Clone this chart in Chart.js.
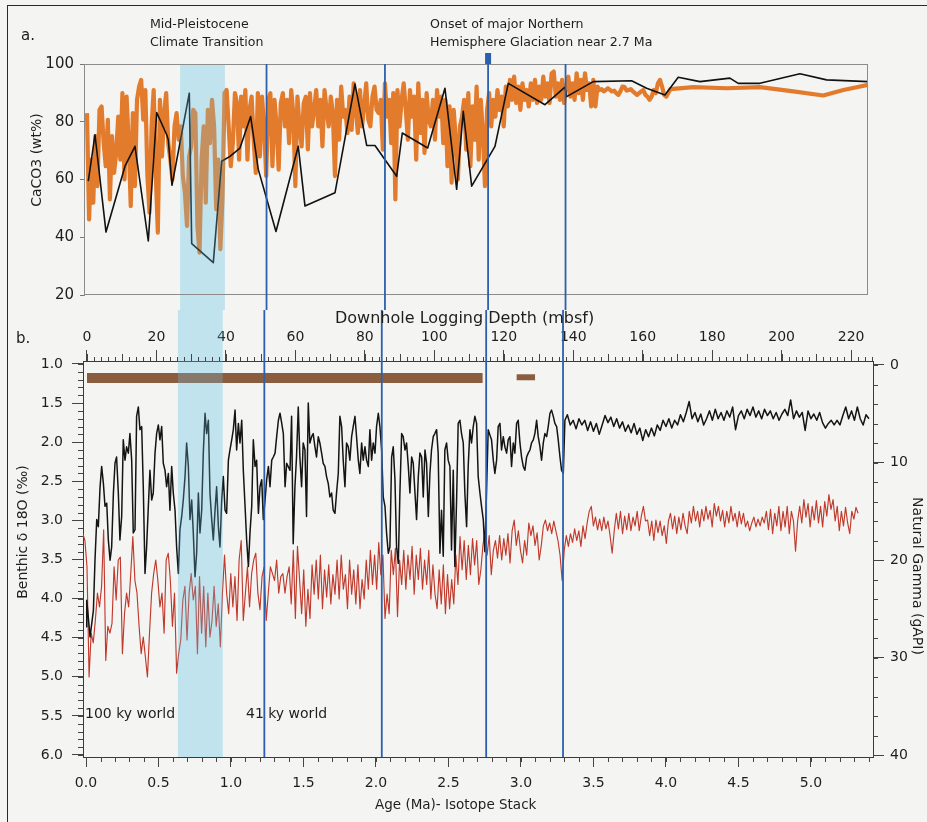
<!DOCTYPE html>
<html><head><meta charset="utf-8">
<script src="https://cdn.jsdelivr.net/npm/chart.js@4.4.1/dist/chart.umd.min.js"></script>
<style>
html,body{margin:0;padding:0;background:#f4f4f2;}
body{width:927px;height:822px;position:relative;overflow:hidden;font-family:"DejaVu Sans",sans-serif;color:#1e1e1e;}
canvas{position:absolute;left:0;}
#cA{top:0;}
#cB{top:310px;}
.t{position:absolute;white-space:nowrap;line-height:1.2;font-family:"DejaVu Sans",sans-serif;color:#1e1e1e;}
.rl{transform:translate(-50%,-50%) rotate(-90deg);}
.rr{transform:translate(-50%,-50%) rotate(90deg);}
#frame{position:absolute;left:7px;top:5px;width:960px;height:860px;border-left:1.5px solid #2a2a2a;border-top:1.5px solid #2a2a2a;pointer-events:none;}
</style></head>
<body>
<canvas id="cA" width="927" height="310"></canvas>
<canvas id="cB" width="927" height="512"></canvas>
<div class="t" style="left:21px;top:25.8px;font-size:15px;">a.</div>
<div class="t" style="left:150px;top:16.4px;font-size:12.6px;">Mid-Pleistocene</div>
<div class="t" style="left:150px;top:33.6px;font-size:12.6px;">Climate Transition</div>
<div class="t" style="left:430px;top:16.4px;font-size:12.6px;">Onset of major Northern</div>
<div class="t" style="left:430px;top:33.6px;font-size:12.6px;">Hemisphere Glaciation near 2.7 Ma</div>
<div class="t" style="left:16px;top:329px;font-size:15px;">b.</div>
<div class="t" style="left:335px;top:308.2px;font-size:16px;">Downhole Logging Depth (mbsf)</div>
<div class="t" style="left:85px;top:704.8px;font-size:14px;">100 ky world</div>
<div class="t" style="left:246px;top:704.8px;font-size:14px;">41 ky world</div>
<div class="t" style="left:375px;top:795.5px;font-size:13.5px;">Age (Ma)- Isotope Stack</div>
<div class="t rl" style="left:36px;top:159.5px;font-size:14px;">CaCO3 (wt%)</div>
<div class="t rl" style="left:22px;top:532px;font-size:14px;">Benthic δ 18O (‰)</div>
<div class="t rr" style="left:918px;top:576px;font-size:14px;">Natural Gamma (gAPI)</div>
<div id="frame"></div>
<script>
// ---------------- DATA ----------------
// Shared depth sampling grid (mbsf) used by the downhole records
const depthGrid = [-1.2,-0.6,0,0.6,1.2,1.8,2.4,3,3.6,4.2,
4.8,5.4,6,6.6,7.2,7.8,8.4,9,9.6,10.2,
10.8,11.4,12,12.6,13.2,13.8,14.4,15,15.6,16.2,
16.8,17.4,18,18.6,19.2,19.8,20.4,21,21.6,22.2,
22.8,23.4,24,24.6,25.2,25.8,26.4,27,27.6,28.2,
28.8,29.4,30,30.6,31.2,31.8,32.4,33,33.6,34.2,
34.8,35.4,36,36.6,37.2,37.8,38.4,39,39.6,40.2,
40.8,41.4,42,42.6,43.2,43.8,44.4,45,45.6,46.2,
46.8,47.4,48,48.6,49.2,49.8,50.4,51,51.6,52.2,
52.8,53.4,54,54.6,55.2,55.8,56.4,57,57.6,58.2,
58.8,59.4,60,60.6,61.2,61.8,62.4,63,63.6,64.2,
64.8,65.4,66,66.6,67.2,67.8,68.4,69,69.6,70.2,
70.8,71.4,72,72.6,73.2,73.8,74.4,75,75.6,76.2,
76.8,77.4,78,78.6,79.2,79.8,80.4,81,81.6,82.2,
82.8,83.4,84,84.6,85.2,85.8,86.4,87,87.6,88.2,
88.8,89.4,90,90.6,91.2,91.8,92.4,93,93.6,94.2,
94.8,95.4,96,96.6,97.2,97.8,98.4,99,99.6,100.2,
100.8,101.4,102,102.6,103.2,103.8,104.4,105,105.6,106.2,
106.8,107.4,108,108.6,109.2,109.8,110.4,111,111.6,112.2,
112.8,113.4,114,114.6,115.2,115.8,116.4,117,117.6,118.2,
118.8,119.4,120,120.6,121.2,121.8,122.4,123,123.6,124.2,
124.8,125.4,126,126.6,127.2,127.8,128.4,129,129.6,130.2,
130.8,131.4,132,132.6,133.2,133.8,134.4,135,135.6,136.2,
136.8,137.4,138,138.6,139.2,139.8,140.4,141,141.6,142.2,
142.8,143.4,144,144.6,145.2,145.8,146.4,147,147.6,148.2,
148.8,149.4,150,150.6,151.2,151.8,152.4,153,153.6,154.2,
154.8,155.4,156,156.6,157.2,157.8,158.4,159,159.6,160.2,
160.8,161.4,162,162.6,163.2,163.8,164.4,165,165.6,166.2,
166.8,167.4,168,168.6,169.2,169.8,170.4,171,171.6,172.2,
172.8,173.4,174,174.6,175.2,175.8,176.4,177,177.6,178.2,
178.8,179.4,180,180.6,181.2,181.8,182.4,183,183.6,184.2,
184.8,185.4,186,186.6,187.2,187.8,188.4,189,189.6,190.2,
190.8,191.4,192,192.6,193.2,193.8,194.4,195,195.6,196.2,
196.8,197.4,198,198.6,199.2,199.8,200.4,201,201.6,202.2,
202.8,203.4,204,204.6,205.2,205.8,206.4,207,207.6,208.2,
208.8,209.4,210,210.6,211.2,211.8,212.4,213,213.6,214.2,
214.8,215.4,216,216.6,217.2,217.8,218.4,219,219.6,220.2,
220.8,221.4,222];

// Panel a: CaCO3 (wt%) high-resolution record, on depthGrid from 0 m
const caco3Orange = [83.0,46.2,66.9,52.0,75.0,57.7,84.1,85.3,72.6,64.6,80.7,53.1,75.0,62.3,69.2,81.8,66.9,
89.9,60.0,88.7,72.6,50.8,83.0,57.7,87.6,92.2,94.5,80.7,91.0,61.2,48.5,78.4,91.0,62.3,41.6,87.6,68.0,83.0,89.9,72.6,66.9,
60.0,78.4,83.0,73.8,78.4,61.2,55.4,43.9,68.0,71.5,84.1,83.0,43.9,34.7,66.9,78.4,52.0,84.1,72.6,87.6,78.4,49.7,66.9,
35.9,
53.1,89.9,91.0,78.4,64.6,72.6,89.9,86.4,66.9,88.7,78.4,91.0,66.9,84.1,88.7,73.8,62.3,89.9,68.0,88.7,78.4,61.2,87.6,
89.9,64.6,87.6,78.4,63.4,86.4,89.9,78.4,87.6,72.6,91.0,83.0,57.7,88.7,78.4,71.5,86.4,88.7,70.4,89.9,78.4,84.1,91.0,78.4,
87.6,71.5,91.0,84.1,78.4,88.7,83.0,61.2,87.6,73.8,92.2,81.8,84.1,76.1,88.7,77.2,93.3,84.1,76.1,91.0,78.4,85.3,93.3,80.7,
78.4,88.7,92.2,84.1,83.0,
87.6,70.3,93.3,81.8,87.6,72.6,89.9,53.1,91.0,78.4,87.6,93.3,84.1,73.8,91.0,81.8,88.7,66.9,93.3,76.1,
87.6,69.2,89.9,80.7,78.4,87.6,73.8,91.0,81.8,88.7,72.6,87.6,64.6,85.3,58.9,84.1,73.8,60.0,78.4,81.8,
87.6,70.3,89.9,64.6,85.3,73.8,92.2,66.9,87.6,76.1,57.7,84.1,89.9,78.4,87.6,81.8,91.0,84.1,88.7,78.4,
92.2,85.3,94.5,87.6,95.6,86.5,92.2,84.1,93.3,87.6,91.0,85.3,93.3,87.6,94.5,86.5,92.2,87.6,95.6,88.7,
93.3,86.5,96.8,97.4,88.7,93.3,87.6,94.5,86.5,92.2,95.6,88.7,93.3,87.6,96.8,89.9,94.5,87.6,96.8,91.0,
93.3,85.3,94.5,85.3,92.2,91.0,91.3,90.5,91.0,91.6,91.0,90.5,90.8,89.9,89.3,90.5,92.2,92.0,90.8,91.0,
91.3,90.5,89.9,89.3,89.9,90.5,91.0,89.3,88.7,87.6,88.7,91.0,89.9,93.3,94.5,92.2,89.3,88.7];
const caco3TailDepth = [168.0,174.6,184.2,193.8,203.4,212.0,217.8,225.0];
const caco3TailValue = [91.3,92.0,91.6,92.0,90.5,89.1,91.0,92.8];

// Panel a: CaCO3 (wt%) low-resolution record
const caco3BlackDepth = [0.37,2.30,5.47,10.94,13.82,17.65,20.07,22.95,23.41,24.47,29.46,30.15,36.37,38.78,41.17,44.05,47.13,49.32,54.42,60.84,62.77,71.41,77.17,80.54,82.93,89.17,90.79,98.10,103.08,106.45,108.35,110.77,117.48,121.31,131.88,137.63,138.12,145.78,156.83,161.15,166.43,170.26,176.50,185.14,187.53,193.78,205.30,212.98,224.96];
const caco3BlackValue = [59.4,75.5,41.8,64.6,71.5,38.7,83.2,75.5,73.8,58.0,89.9,37.8,31.2,66.3,68.0,70.9,81.8,63.5,42.0,71.5,50.8,55.4,93.1,71.8,71.8,61.1,76.1,70.9,91.6,56.6,83.6,57.7,71.5,93.3,85.9,92.0,88.7,93.9,94.2,91.6,89.3,95.4,93.9,95.1,93.3,93.3,96.6,94.5,93.9];

// Panel b: benthic d18O isotope stack (age in Ma)
const isoAge = [0,0.005,0.028,0.051,0.062,0.074,0.085,0.097,0.108,0.120,
0.131,0.143,0.154,0.166,0.177,0.189,0.200,0.211,0.223,0.234,
0.246,0.257,0.269,0.280,0.292,0.303,0.315,0.326,0.338,0.349,
0.361,0.372,0.384,0.395,0.407,0.418,0.430,0.441,0.453,0.464,
0.476,0.487,0.499,0.510,0.522,0.533,0.545,0.556,0.568,0.579,
0.591,0.602,0.614,0.625,0.637,0.648,0.660,0.671,0.683,0.694,
0.706,0.717,0.729,0.740,0.752,0.763,0.775,0.786,0.798,0.809,
0.821,0.832,0.844,0.855,0.867,0.878,0.890,0.901,0.913,0.924,
0.936,0.947,0.959,0.970,0.982,0.993,1.005,1.016,1.028,1.039,
1.051,1.062,1.074,1.085,1.097,1.108,1.120,1.131,1.143,1.154,
1.166,1.177,1.189,1.200,1.212,1.223,1.235,1.246,1.258,1.269,
1.281,1.292,1.304,1.315,1.327,1.338,1.350,1.361,1.373,1.384,1.407,
1.418,1.429,1.441,1.452,1.464,1.475,1.487,1.498,1.510,1.521,
1.533,1.544,1.556,1.567,1.579,1.590,1.602,1.613,1.625,1.636,
1.648,1.659,1.671,1.682,1.694,1.705,1.717,1.728,1.740,1.751,
1.763,1.774,1.786,1.797,1.809,1.820,1.832,1.843,1.855,1.866,
1.878,1.889,1.901,1.912,1.924,1.935,1.947,1.958,1.970,1.981,
1.993,2.004,2.016,2.027,2.039,2.050,2.062,2.073,2.085,2.096,
2.108,2.119,2.131,2.142,2.154,2.165,2.177,2.188,2.200,2.211,
2.223,2.234,2.246,2.257,2.269,2.280,2.292,2.303,2.315,2.326,
2.338,2.349,2.361,2.372,2.383,2.395,2.406,2.418,2.429,2.441,
2.452,2.464,2.475,2.487,2.498,2.510,2.521,2.533,2.544,2.556,
2.567,2.579,2.590,2.602,2.613,2.625,2.636,2.648,2.659,2.671,
2.682,2.694,2.705,2.717,2.728,2.740,2.751,2.763,
2.774,2.786,2.797,2.809,2.820,2.832,2.843,2.855,2.866,2.878,
2.889,2.901,2.912,2.924,2.935,2.947,2.958,2.970,2.981,2.993,
3.004,3.016,3.027,3.039,3.050,3.062,3.073,3.085,3.096,3.108,
3.119,3.131,3.142,3.154,3.165,3.177,3.188,3.200,3.211,3.223,
3.234,3.246,3.257,3.269,3.280,3.292,3.303,
3.32,3.34,3.36,3.38,3.40,3.42,3.44,3.46,3.48,3.50,
3.52,3.54,3.56,3.58,3.60,3.62,3.64,3.66,3.68,3.70,
3.72,3.74,3.76,3.78,3.80,3.82,3.84,3.86,3.88,3.90,
3.92,3.94,3.96,3.98,4.00,4.02,4.04,4.06,4.08,4.10,
4.12,4.14,4.16,4.18,4.20,4.22,4.24,4.26,4.28,4.30,
4.32,4.34,4.36,4.38,4.40,4.42,4.44,4.46,4.48,4.50,
4.52,4.54,4.56,4.58,4.60,4.62,4.64,4.66,4.68,4.70,
4.72,4.74,4.76,4.78,4.80,4.82,4.84,4.86,4.88,4.90,
4.92,4.94,4.96,4.98,5.00,5.02,5.04,5.06,5.08,5.10,
5.12,5.14,5.16,5.18,5.20,5.22,5.24,5.26,5.28,5.30,
5.32,5.34,5.36,5.38,5.40];
const isoD18O = [4.36,4.02,4.49,4.15,3.51,2.99,3.08,2.57,2.31,2.53,
2.82,2.78,3.25,3.51,3.34,2.65,2.27,2.19,2.65,3.25,
2.95,1.97,2.23,2.06,2.14,1.89,2.23,3.16,3.12,1.67,
1.55,1.84,1.80,2.57,3.68,3.34,2.82,2.36,2.74,2.65,
2.14,1.89,1.78,1.97,1.80,2.27,2.36,2.57,2.40,2.87,
2.31,2.65,2.87,3.34,3.68,3.12,2.95,2.74,2.44,2.01,
2.31,2.99,2.74,3.16,3.72,3.42,2.65,3.16,2.87,2.14,
1.63,1.89,1.72,2.65,2.99,3.25,2.87,2.57,3.08,3.34,
2.74,2.44,2.87,2.91,2.23,2.10,1.97,1.84,1.59,2.10,
1.76,2.01,1.72,2.36,2.82,3.25,3.59,3.16,2.82,1.97,
2.31,2.23,2.91,2.57,2.48,2.99,2.74,2.48,2.31,2.57,
2.23,2.19,2.14,1.93,1.72,1.63,1.76,1.89,2.57,2.27,2.36,
1.67,3.30,2.57,2.19,1.55,2.19,2.57,2.01,2.10,2.95,
1.50,2.01,1.93,1.89,2.06,2.19,1.93,2.01,2.14,2.27,
2.31,2.44,2.53,2.70,2.65,2.87,2.91,2.65,2.40,1.67,
1.80,2.23,2.57,2.01,2.06,2.23,1.93,1.80,1.67,1.93,
2.23,2.40,2.01,2.23,2.06,2.23,2.31,1.84,2.23,2.01,
2.14,1.80,1.63,1.80,2.10,2.70,2.82,3.16,3.42,3.34,
2.19,2.06,2.48,3.34,3.55,2.65,1.89,1.93,2.10,2.01,
2.31,2.65,2.19,2.27,2.65,2.99,2.44,2.14,2.19,2.70,
2.10,2.27,2.95,2.40,2.10,1.93,1.89,1.84,2.14,3.42,
2.87,3.46,2.10,2.01,2.23,2.31,3.38,2.36,3.59,2.74,
1.76,1.72,1.89,2.01,2.65,3.08,2.31,1.84,2.01,1.80,
1.67,1.76,2.44,2.65,2.82,2.99,3.40,2.60,
1.84,1.91,1.97,2.23,2.40,2.23,1.80,1.76,2.10,1.93,
2.06,2.14,1.97,1.93,2.31,2.01,2.14,1.76,1.72,2.01,
2.19,2.31,2.36,2.19,2.14,2.10,2.01,1.97,1.89,1.72,
1.93,2.06,2.23,2.01,1.89,1.93,1.80,1.63,1.59,1.67,
1.76,1.80,1.97,2.19,2.36,2.40,1.72,
1.65,1.78,1.72,1.83,1.70,1.78,1.72,1.85,1.74,1.86,
1.76,1.90,1.78,1.66,1.75,1.68,1.80,1.70,1.82,1.74,
1.86,1.78,1.88,1.76,1.90,1.82,1.98,1.84,1.93,1.82,
1.92,1.78,1.85,1.72,1.80,1.70,1.82,1.72,1.78,1.65,
1.74,1.62,1.48,1.70,1.62,1.74,1.64,1.78,1.70,1.60,
1.72,1.58,1.70,1.62,1.72,1.60,1.68,1.55,1.84,1.66,
1.60,1.70,1.58,1.66,1.55,1.68,1.60,1.70,1.58,1.66,
1.60,1.70,1.62,1.72,1.64,1.58,1.66,1.46,1.70,1.60,
1.68,1.62,1.85,1.60,1.70,1.64,1.72,1.62,1.75,1.82,
1.76,1.72,1.78,1.72,1.78,1.66,1.55,1.70,1.60,1.72,
1.55,1.70,1.78,1.65,1.70];

// Panel b: natural gamma log (gAPI), on depthGrid
const naturalGamma = [17.3,18.0,
20.7,32.0,27.5,28.5,26.2,23.4,24.8,22.7,16.9,30.3,
26.8,27.5,26.5,20.7,24.1,20.0,19.7,29.6,25.5,23.4,
24.8,21.4,17.6,22.1,23.4,26.8,29.6,27.9,29.9,32.0,
27.5,23.4,21.4,20.0,22.1,24.8,23.4,27.5,20.0,19.3,
22.1,26.8,23.4,31.6,29.6,28.2,24.1,22.7,28.2,23.4,
21.4,24.1,22.7,29.6,21.7,27.5,22.7,28.9,23.4,27.9,
26.2,22.7,26.8,24.5,28.9,23.4,19.5,23.4,25.5,21.4,
24.8,21.7,26.2,20.0,18.0,26.2,23.4,20.7,24.8,21.4,
20.0,19.3,23.4,25.1,21.7,20.7,26.2,23.4,20.7,21.4,
22.1,20.0,23.4,21.7,21.4,23.4,21.7,20.7,24.5,19.0,
26.0,18.6,22.0,25.5,21.0,26.8,23.0,26.0,20.5,23.5,
20.0,24.0,19.5,25.0,21.0,23.8,20.5,24.5,21.5,23.5,
20.0,24.0,19.5,23.0,21.5,25.0,20.0,23.5,21.0,24.5,
20.5,25.0,22.0,24.0,20.0,23.0,19.0,22.5,19.5,23.0,
18.2,21.5,19.5,26.0,23.5,25.5,19.0,21.5,18.8,25.8,
20.0,22.5,19.0,23.0,19.5,22.0,18.6,23.5,19.5,22.0,
18.8,23.0,20.0,22.5,19.0,24.0,20.5,23.5,25.0,21.0,
24.5,20.5,25.5,21.5,25.0,22.0,24.5,19.5,22.5,17.6,
21.0,18.0,22.0,18.5,21.5,17.8,20.5,18.0,22.5,21.0,
18.5,17.0,19.5,17.5,21.5,19.0,18.0,19.8,17.5,20.0,
17.8,19.5,17.3,20.3,17.0,15.9,18.5,17.0,19.0,20.3,
18.0,19.5,16.2,17.5,16.5,18.5,17.2,20.0,18.5,16.5,
15.9,17.0,16.2,17.3,16.0,17.0,18.0,19.5,22.1,19.0,
17.5,18.6,17.3,18.2,16.8,18.0,17.0,18.6,16.5,17.8,
16.2,15.0,14.5,16.5,15.6,16.9,15.8,17.0,15.6,16.8,
16.0,17.5,19.3,17.0,15.2,16.8,15.0,17.3,15.5,16.9,
15.2,17.0,15.6,16.5,15.0,17.0,15.5,14.5,16.0,15.9,
17.5,16.0,18.0,15.9,17.2,16.0,17.5,16.5,18.3,16.0,
15.2,16.8,15.5,17.3,15.6,16.9,15.2,16.5,17.3,15.0,
16.2,14.5,16.0,15.0,16.6,14.8,16.0,14.5,15.8,14.9,
16.6,14.2,15.5,14.5,16.0,14.9,16.6,15.0,16.2,14.5,
16.0,15.2,16.6,15.0,16.3,15.2,16.6,16.0,17.0,16.2,
15.6,16.6,15.8,16.5,15.6,16.2,15.0,16.9,14.8,17.3,
15.2,16.5,14.5,17.0,15.0,16.6,14.5,17.3,15.0,16.0,
19.1,16.0,14.5,16.2,13.8,15.6,14.2,16.6,14.5,15.9,
13.9,16.2,14.5,16.6,14.0,15.5,13.3,14.8,13.8,16.0,
14.5,17.0,15.0,16.5,14.6,16.2,17.3,15.0,15.8,14.6,
15.2];

// Panel b: brown interval bars (depth range in mbsf, position on d18O axis)
const barDepthStart = [0.0, 123.7];
const barDepthEnd = [113.9, 129.0];
const barLevel = [1.18, 1.17];

// Mid-Pleistocene transition shading and vertical boundary lines
const mptShadeDepth = [26.8, 39.7];
const mptShadeAge = [0.634, 0.943];
const boundaryDepth = [51.7, 85.8, 115.5, 137.8];
const boundaryAge = [1.23, 2.04, 2.76, 3.29];

// ---------------- CHARTS ----------------
Chart.defaults.font.family = "'DejaVu Sans', sans-serif";
Chart.defaults.color = '#1e1e1e';

const pts = (xs, ys) => xs.map((x, i) => ({x: x, y: ys[i]}));
const orangeDepth = depthGrid.slice(2, 2 + caco3Orange.length).concat(caco3TailDepth);
const orangeVals = caco3Orange.concat(caco3TailValue);

const SHADE_BASE = '#dcedf1';
const SHADE_TINT = 'rgba(120,200,230,0.27)';
const BLUE = '#2c60ae';

function minorTicks(chart, specs) {
  const ctx = chart.ctx, ca = chart.chartArea;
  ctx.save();
  ctx.strokeStyle = '#444';
  ctx.lineWidth = 1;
  ctx.beginPath();
  specs.forEach(sp => {
    const sc = chart.scales[sp.id];
    const n0 = Math.ceil(sc.min / sp.step - 1e-9), n1 = Math.floor(sc.max / sp.step + 1e-9);
    for (let n = n0; n <= n1; n++) {
      const p = Math.round(sc.getPixelForValue(n * sp.step)) + 0.5;
      if (sp.side === 'left') { ctx.moveTo(ca.left, p); ctx.lineTo(ca.left - sp.len, p); }
      else if (sp.side === 'right') { ctx.moveTo(ca.right, p); ctx.lineTo(ca.right + sp.len, p); }
      else if (sp.side === 'top') { ctx.moveTo(p, ca.top); ctx.lineTo(p, ca.top - sp.len); }
      else { ctx.moveTo(p, ca.bottom); ctx.lineTo(p, ca.bottom + sp.len); }
    }
  });
  ctx.stroke();
  ctx.restore();
}

function shadeRect(chart, scaleId, range, yTop, yBottom, style) {
  const sx = chart.scales[scaleId];
  const x0 = sx.getPixelForValue(range[0]), x1 = sx.getPixelForValue(range[1]);
  const ctx = chart.ctx;
  ctx.save();
  ctx.fillStyle = style;
  ctx.fillRect(x0, yTop, x1 - x0, yBottom - yTop);
  ctx.restore();
}

const panelAPlugin = {
  id: 'panelA',
  beforeDraw(chart) {
    shadeRect(chart, 'x', mptShadeDepth, chart.chartArea.top, chart.height, SHADE_BASE);
  },
  afterDatasetsDraw(chart) {
    const ctx = chart.ctx, ca = chart.chartArea, sx = chart.scales.x;
    const H = chart.height;
    shadeRect(chart, 'x', mptShadeDepth, ca.top, H, SHADE_TINT);
    ctx.save();
    ctx.strokeStyle = '#8c8c8c'; ctx.lineWidth = 1;
    ctx.strokeRect(ca.left + 0.5, ca.top + 0.5, ca.right - ca.left - 1, ca.bottom - ca.top - 1);
    ctx.strokeStyle = BLUE; ctx.lineWidth = 1.8;
    boundaryDepth.forEach(d => {
      const x = sx.getPixelForValue(d);
      ctx.beginPath(); ctx.moveTo(x, ca.top); ctx.lineTo(x, H); ctx.stroke();
    });
    const xm = sx.getPixelForValue(boundaryDepth[2]);
    ctx.fillStyle = BLUE;
    ctx.fillRect(xm - 3, ca.top - 11, 6, 11);
    ctx.restore();
  }
};

new Chart(document.getElementById('cA'), {
  type: 'line',
  data: {datasets: [
    {label: 'CaCO3 low-res', data: pts(caco3BlackDepth, caco3BlackValue), borderColor: '#111', borderWidth: 1.6},
    {label: 'CaCO3 high-res', data: pts(orangeDepth, orangeVals), borderColor: '#e27b2c', borderWidth: 4.2}
  ]},
  options: {
    responsive: false, animation: false, events: [],
    layout: {padding: {left: 0, right: 59, top: 64, bottom: 14}},
    plugins: {legend: {display: false}, tooltip: {enabled: false}},
    elements: {point: {radius: 0}, line: {tension: 0, borderJoinStyle: 'round'}},
    scales: {
      x: {type: 'linear', display: false, min: -0.864, max: 224.9},
      y: {type: 'linear', position: 'left', min: 20, max: 100,
          ticks: {stepSize: 20, font: {size: 15}, color: '#1e1e1e', padding: 6, includeBounds: false},
          grid: {drawOnChartArea: false, drawTicks: true, tickLength: 4, color: '#777'},
          border: {display: true, color: '#8c8c8c'},
          afterFit(s) { s.width = 84; }}
    }
  },
  plugins: [panelAPlugin]
});

const panelBPlugin = {
  id: 'panelB',
  beforeDraw(chart) {
    shadeRect(chart, 'xAge', mptShadeAge, 0, chart.chartArea.bottom, SHADE_BASE);
  },
  afterDatasetsDraw(chart) {
    const ctx = chart.ctx, ca = chart.chartArea, sx = chart.scales.xAge;
    shadeRect(chart, 'xAge', mptShadeAge, 0, ca.bottom, SHADE_TINT);
    ctx.save();
    ctx.strokeStyle = BLUE; ctx.lineWidth = 1.8;
    boundaryAge.forEach(a => {
      const x = sx.getPixelForValue(a);
      ctx.beginPath(); ctx.moveTo(x, 0); ctx.lineTo(x, ca.bottom); ctx.stroke();
    });
    ctx.restore();
  },
  afterDraw(chart) {
    minorTicks(chart, [
      {id: 'yD', step: 0.1, len: 5, side: 'left'},
      {id: 'yG', step: 2, len: 5, side: 'right'},
      {id: 'xAge', step: 0.1, len: 5, side: 'bottom'},
      {id: 'xDepth', step: 2, len: 4, side: 'top'},
      {id: 'xDepth', step: 10, len: 7, side: 'top'}
    ]);
  }
};

const axisCommon = (len) => ({
  grid: {drawOnChartArea: false, drawTicks: true, tickLength: len, color: '#444'},
  border: {display: true, color: '#3a3a3a', width: 1}
});

new Chart(document.getElementById('cB'), {
  type: 'line',
  data: {datasets: [
    {label: 'Benthic d18O', data: pts(isoAge, isoD18O), xAxisID: 'xAge', yAxisID: 'yD', borderColor: '#141414', borderWidth: 1.5},
    {label: 'Natural Gamma', data: pts(depthGrid, naturalGamma), xAxisID: 'xDepth', yAxisID: 'yG', borderColor: '#c03a2c', borderWidth: 1.15},
    {label: 'Interval 1', data: [{x: barDepthStart[0], y: barLevel[0]}, {x: barDepthEnd[0], y: barLevel[0]}], xAxisID: 'xDepth', yAxisID: 'yD', borderColor: '#8a5d3f', borderWidth: 10, borderCapStyle: 'butt'},
    {label: 'Interval 2', data: [{x: barDepthStart[1], y: barLevel[1]}, {x: barDepthEnd[1], y: barLevel[1]}], xAxisID: 'xDepth', yAxisID: 'yD', borderColor: '#8a5d3f', borderWidth: 6, borderCapStyle: 'butt'}
  ]},
  options: {
    responsive: false, animation: false, events: [],
    layout: {padding: 0},
    plugins: {legend: {display: false}, tooltip: {enabled: false}},
    elements: {point: {radius: 0}, line: {tension: 0, borderJoinStyle: 'round'}},
    scales: {
      xAge: Object.assign({type: 'linear', position: 'bottom', min: -0.0207, max: 5.428,
        ticks: {stepSize: 0.5, includeBounds: false, autoSkip: false, maxRotation: 0, padding: 7.6, font: {size: 14}, color: '#1e1e1e',
                callback: v => Number(v).toFixed(1)},
        afterFit(s) { s.height = 65; }}, axisCommon(10)),
      xDepth: Object.assign({type: 'linear', position: 'top', min: -1.15, max: 226.3,
        ticks: {stepSize: 20, includeBounds: false, autoSkip: false, maxRotation: 0, padding: 4.6, font: {size: 14}, color: '#1e1e1e'},
        afterFit(s) { s.height = 51; }}, axisCommon(11)),
      yD: Object.assign({type: 'linear', position: 'left', reverse: true, min: 0.962, max: 6.026,
        ticks: {stepSize: 0.5, includeBounds: false, autoSkip: false, padding: 9, font: {size: 14}, color: '#1e1e1e',
                callback: v => Number(v).toFixed(1)},
        afterFit(s) { s.width = 83; }}, axisCommon(11)),
      yG: Object.assign({type: 'linear', position: 'right', reverse: true, min: -0.41, max: 40.2,
        ticks: {stepSize: 10, includeBounds: false, autoSkip: false, padding: 6, font: {size: 14}, color: '#1e1e1e'},
        afterFit(s) { s.width = 54; }}, axisCommon(11))
    }
  },
  plugins: [panelBPlugin]
});
</script>
</body></html>
